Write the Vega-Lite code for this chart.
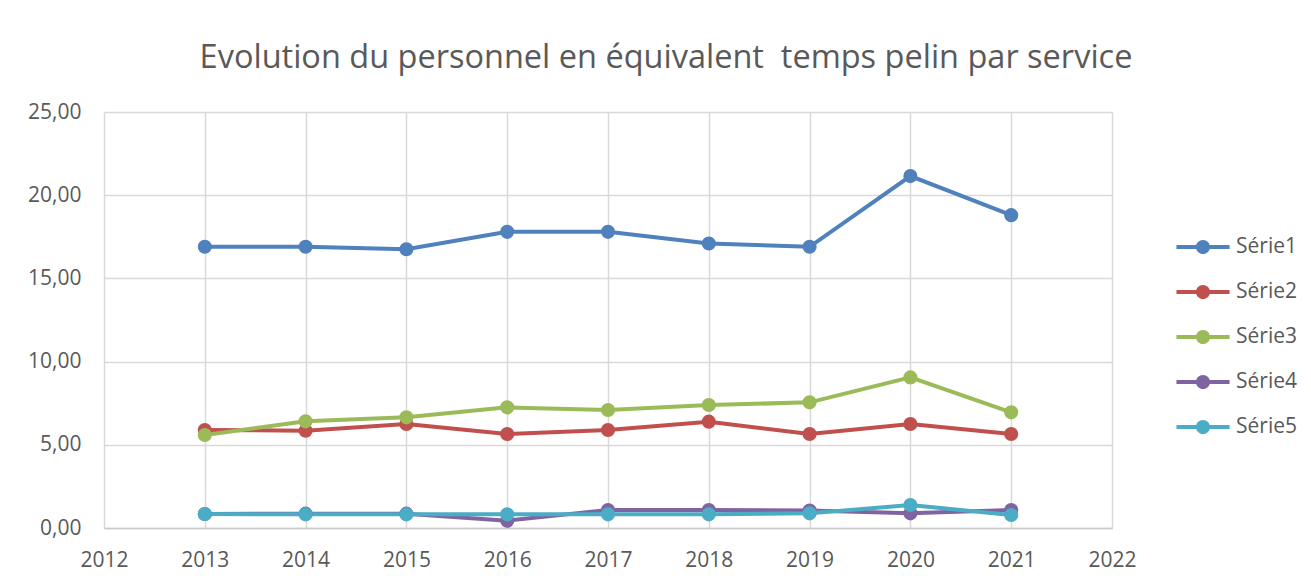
{
  "$schema": "https://vega.github.io/schema/vega-lite/v6.json",
  "width": 1008,
  "height": 416,
  "autosize": {"type": "none"},
  "padding": {"left": 104, "top": 112, "right": 199, "bottom": 55},
  "background": "white",
  "title": {
    "text": "Evolution du personnel en équivalent\u00a0 temps pelin par service",
    "anchor": "middle",
    "frame": "group",
    "dx": 58,
    "offset": 27,
    "font": "Open Sans",
    "fontSize": 32.5,
    "fontWeight": "normal",
    "color": "#595959"
  },
  "data": {
    "values": [
      {"annee": 2013, "serie": "Série1", "valeur": 16.9},
      {"annee": 2014, "serie": "Série1", "valeur": 16.9},
      {"annee": 2015, "serie": "Série1", "valeur": 16.75},
      {"annee": 2016, "serie": "Série1", "valeur": 17.8},
      {"annee": 2017, "serie": "Série1", "valeur": 17.8},
      {"annee": 2018, "serie": "Série1", "valeur": 17.1},
      {"annee": 2019, "serie": "Série1", "valeur": 16.9},
      {"annee": 2020, "serie": "Série1", "valeur": 21.15},
      {"annee": 2021, "serie": "Série1", "valeur": 18.8},
      {"annee": 2013, "serie": "Série2", "valeur": 5.89},
      {"annee": 2014, "serie": "Série2", "valeur": 5.85},
      {"annee": 2015, "serie": "Série2", "valeur": 6.25},
      {"annee": 2016, "serie": "Série2", "valeur": 5.65},
      {"annee": 2017, "serie": "Série2", "valeur": 5.89},
      {"annee": 2018, "serie": "Série2", "valeur": 6.39},
      {"annee": 2019, "serie": "Série2", "valeur": 5.65},
      {"annee": 2020, "serie": "Série2", "valeur": 6.25},
      {"annee": 2021, "serie": "Série2", "valeur": 5.65},
      {"annee": 2013, "serie": "Série3", "valeur": 5.59},
      {"annee": 2014, "serie": "Série3", "valeur": 6.41},
      {"annee": 2015, "serie": "Série3", "valeur": 6.65},
      {"annee": 2016, "serie": "Série3", "valeur": 7.25},
      {"annee": 2017, "serie": "Série3", "valeur": 7.09},
      {"annee": 2018, "serie": "Série3", "valeur": 7.39},
      {"annee": 2019, "serie": "Série3", "valeur": 7.55},
      {"annee": 2020, "serie": "Série3", "valeur": 9.05},
      {"annee": 2021, "serie": "Série3", "valeur": 6.95},
      {"annee": 2013, "serie": "Série4", "valeur": 0.84},
      {"annee": 2014, "serie": "Série4", "valeur": 0.86},
      {"annee": 2015, "serie": "Série4", "valeur": 0.86},
      {"annee": 2016, "serie": "Série4", "valeur": 0.44},
      {"annee": 2017, "serie": "Série4", "valeur": 1.08},
      {"annee": 2018, "serie": "Série4", "valeur": 1.08},
      {"annee": 2019, "serie": "Série4", "valeur": 1.05},
      {"annee": 2020, "serie": "Série4", "valeur": 0.88},
      {"annee": 2021, "serie": "Série4", "valeur": 1.08},
      {"annee": 2013, "serie": "Série5", "valeur": 0.84},
      {"annee": 2014, "serie": "Série5", "valeur": 0.82},
      {"annee": 2015, "serie": "Série5", "valeur": 0.82},
      {"annee": 2016, "serie": "Série5", "valeur": 0.82},
      {"annee": 2017, "serie": "Série5", "valeur": 0.82},
      {"annee": 2018, "serie": "Série5", "valeur": 0.82},
      {"annee": 2019, "serie": "Série5", "valeur": 0.88},
      {"annee": 2020, "serie": "Série5", "valeur": 1.38},
      {"annee": 2021, "serie": "Série5", "valeur": 0.78}
    ]
  },
  "encoding": {
    "x": {
      "field": "annee",
      "type": "quantitative",
      "scale": {"domain": [2012, 2022], "nice": false, "zero": false},
      "axis": {
        "title": null,
        "values": [2012, 2013, 2014, 2015, 2016, 2017, 2018, 2019, 2020, 2021, 2022],
        "format": "d",
        "grid": true,
        "gridColor": "#d9d9d9",
        "gridWidth": 1.5,
        "domain": true,
        "domainColor": "#c9c9c9",
        "domainWidth": 1.5,
        "ticks": false,
        "labelPadding": 21,
        "labelFont": "Open Sans",
        "labelFontSize": 21,
        "labelColor": "#595959",
        "labelFlush": false
      }
    },
    "y": {
      "field": "valeur",
      "type": "quantitative",
      "scale": {"domain": [0, 25], "nice": false},
      "axis": {
        "title": null,
        "values": [0, 5, 10, 15, 20, 25],
        "labelExpr": "replace(format(datum.value, '.2f'), '.', ',')",
        "grid": true,
        "gridColor": "#d9d9d9",
        "gridWidth": 1.5,
        "domain": false,
        "ticks": false,
        "labelPadding": 23,
        "labelFont": "Open Sans",
        "labelFontSize": 21,
        "labelColor": "#595959"
      }
    },
    "color": {
      "field": "serie",
      "type": "nominal",
      "scale": {
        "domain": ["Série1", "Série2", "Série3", "Série4", "Série5"],
        "range": ["#4F81BD", "#C0504D", "#9BBB59", "#8064A2", "#4BACC6"]
      },
      "legend": {
        "title": null,
        "orient": "none",
        "legendX": 1084,
        "legendY": 120,
        "padding": 0,
        "symbolType": "M-1.77,-0.13 L1.77,-0.13 L1.77,0.13 L-1.77,0.13 Z M0.47,0 A0.47,0.47 0 1,1 -0.47,0 A0.47,0.47 0 1,1 0.47,0 Z",
        "symbolSize": 900,
        "symbolStrokeWidth": 0,
        "labelOffset": 18,
        "rowPadding": 20,
        "labelFont": "Open Sans",
        "labelFontSize": 21,
        "labelColor": "#595959",
        "encode": {
          "symbols": {
            "update": {
              "fill": {"scale": "color", "field": "value"},
              "fillOpacity": {"value": 1},
              "strokeWidth": {"value": 0}
            }
          }
        }
      }
    }
  },
  "layer": [
    {
      "mark": {"type": "line", "strokeWidth": 4},
      "encoding": {"detail": {"field": "serie"}}
    },
    {
      "mark": {"type": "point", "filled": true, "shape": "circle", "size": 200, "opacity": 1}
    }
  ],
  "config": {
    "view": {"stroke": null}
  }
}
